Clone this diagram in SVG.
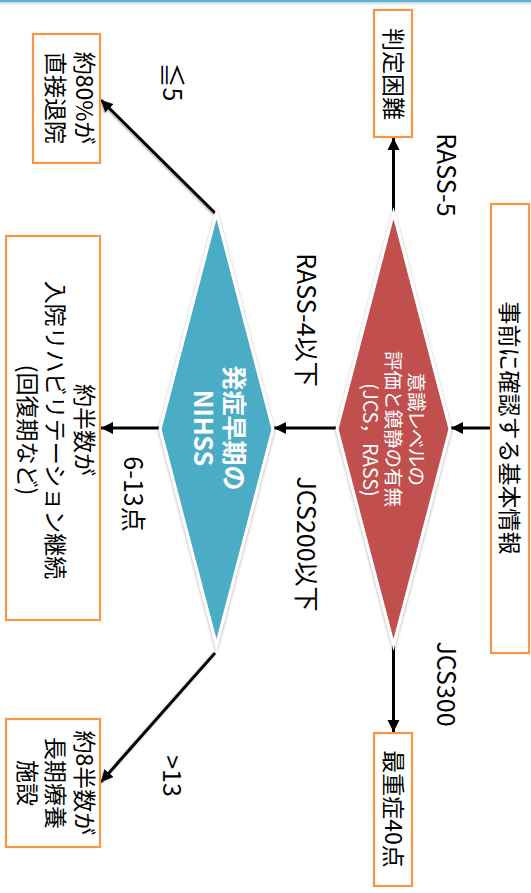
<svg xmlns="http://www.w3.org/2000/svg" width="531" height="893" viewBox="0 0 531 893">
<style>
.box{fill:#fff;stroke:#F79646;stroke-width:2.2}
.bt{font-family:"Noto Sans CJK JP","Noto Sans",sans-serif;font-size:23px;fill:#000;text-anchor:middle;dominant-baseline:central}
.lb{font-family:"Noto Sans CJK JP","Noto Sans",sans-serif;font-size:25px;fill:#000;text-anchor:middle;dominant-baseline:central}
.rt{font-family:"Noto Sans CJK JP","Noto Sans",sans-serif;font-size:19.5px;fill:#fff;text-anchor:middle;dominant-baseline:central}
.pa{font-feature-settings:"palt"}
.nt{font-family:"Noto Sans CJK JP","Noto Sans",sans-serif;font-size:25px;font-weight:bold;fill:#fff;text-anchor:middle;dominant-baseline:central}
.cn{stroke:#000;stroke-width:3;fill:none;marker-end:url(#ah)}
</style>
<defs>
<marker id="ah" markerUnits="userSpaceOnUse" markerWidth="13" markerHeight="13" refX="12" refY="6.5" orient="auto">
<path d="M0,0.5 L12,6.5 L0,12.5 z" fill="#000"/>
</marker>
<filter id="sh" x="-20%" y="-20%" width="140%" height="140%">
<feDropShadow dx="1.5" dy="0" stdDeviation="1.8" flood-color="#000" flood-opacity="0.35"/>
</filter>
<filter id="lsh" x="-20%" y="-20%" width="140%" height="140%">
<feDropShadow dx="1" dy="1" stdDeviation="1.2" flood-color="#000" flood-opacity="0.3"/>
</filter>
</defs>
<rect x="0" y="0" width="531" height="2.5" fill="#5CB6D8"/>
<rect x="0" y="2.5" width="531" height="2" fill="#E4E4E4"/>
<g transform="translate(531,0) rotate(90)">
<g id="connectors">
<line class="cn" x1="428" y1="40" x2="428" y2="80"/>
<line class="cn" x1="213" y1="137.5" x2="138" y2="137.5"/>
<line class="cn" x1="645" y1="137.5" x2="732" y2="137.5"/>
<line class="cn" x1="428" y1="194" x2="428" y2="257"/>
<line class="cn" filter="url(#lsh)" x1="213" y1="316" x2="100" y2="430"/>
<line class="cn" x1="428" y1="371" x2="428" y2="430"/>
<line class="cn" filter="url(#lsh)" x1="653" y1="316" x2="782" y2="430"/>
</g>
<g id="labels">
<text class="lb" x="175" y="83">RASS-5</text>
<text class="lb" x="684" y="83">JCS300</text>
<text class="lb" x="320" y="223">RASS-4以下</text>
<text class="lb" x="544" y="223">JCS200以下</text>
<text class="lb" x="82" y="357">≦5</text>
<text class="lb" x="494" y="396">6-13点</text>
<text class="lb" x="776" y="357">&gt;13</text>
</g>
<g id="start">
<rect class="box" x="204" y="2" width="449" height="38"/>
<text class="bt" x="428" y="20">事前に確認する基本情報</text>
</g>
<g id="consciousness">
<polygon points="213,137.5 429,81 645,137.5 429,194" fill="#C0504D" stroke="#fff" stroke-width="3" filter="url(#sh)"/>
<text class="rt pa" x="429" y="114">意識レベルの</text>
<text class="rt" x="429" y="137">評価と鎮静の有無</text>
<text class="rt" x="440" y="160">(JCS，RASS)</text>
</g>
<g id="difficult">
<rect class="box" x="10" y="119" width="127" height="38"/>
<text class="bt" x="74" y="136">判定困難</text>
</g>
<g id="severe">
<rect class="box" x="733" y="119" width="153" height="38"/>
<text class="bt" x="809" y="136">最重症40点</text>
</g>
<g id="nihss">
<polygon points="213,314.5 429,258 645,314.5 429,371" fill="#4BACC6" stroke="#fff" stroke-width="3" filter="url(#sh)"/>
<text class="nt" x="428" y="295">発症早期の</text>
<text class="nt" x="428" y="326">NIHSS</text>
</g>
<g id="discharge">
<rect class="box" x="34" y="431" width="129" height="67"/>
<text class="bt" x="98" y="445">約80%が</text>
<text class="bt" x="98" y="474">直接退院</text>
</g>
<g id="rehab">
<rect class="box" x="236" y="431" width="384" height="94"/>
<text class="bt" x="430" y="445">約半数が</text>
<text class="bt" x="430" y="474">入院リハビリテーション継続</text>
<text class="bt" x="430" y="502">(回復期など)</text>
</g>
<g id="longterm">
<rect class="box" x="719" y="431" width="128" height="94"/>
<text class="bt" x="783" y="445">約8半数が</text>
<text class="bt" x="783" y="474">長期療養</text>
<text class="bt" x="783" y="502">施設</text>
</g>
</g>
</svg>
